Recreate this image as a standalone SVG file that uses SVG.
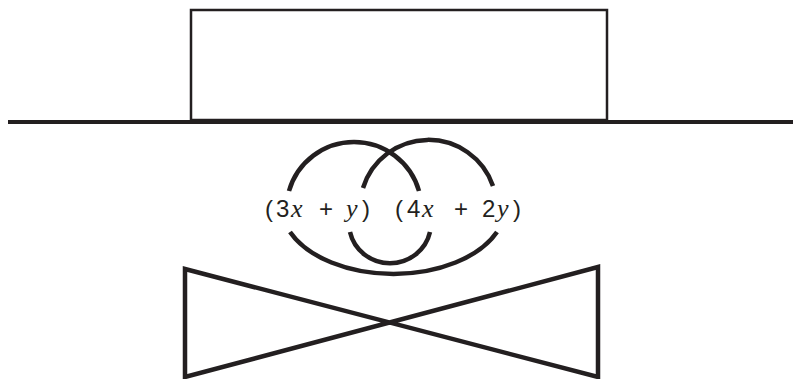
<svg xmlns="http://www.w3.org/2000/svg" width="793" height="379" viewBox="0 0 793 379">
<style>
.s{fill:none;stroke:#231f20;stroke-linecap:butt;stroke-linejoin:miter}
.t{font-family:"Liberation Sans","DejaVu Sans",sans-serif;font-size:24px;fill:#231f20}
.v{font-family:"Liberation Serif","DejaVu Serif",serif;font-style:italic;font-size:26px}
</style>
<rect width="793" height="379" fill="#fff"/>
<g id="box"><rect class="s" x="191" y="10" width="416" height="110" stroke-width="2.5"/></g>
<g id="ground"><line class="s" x1="8" y1="122" x2="793" y2="122" stroke-width="4"/></g>
<g id="connectors">
<path class="s" stroke-width="4.5" d="M 289 191 A 67.6 67.6 0 0 1 419 191"/>
<path class="s" stroke-width="4.5" d="M 363 188 A 68.4 68.4 0 0 1 493 186"/>
<path class="s" stroke-width="4.5" d="M 290 232 A 112.5 69 0 0 0 497 232"/>
<path class="s" stroke-width="4.5" d="M 350 232 A 41 40 0 0 0 430 232"/>
</g>
<g id="labels">
<text class="t" y="217"><tspan x="265">(</tspan><tspan x="276">3</tspan><tspan x="291" class="v">x</tspan><tspan x="319">+</tspan><tspan x="346" class="v">y</tspan><tspan x="362">)</tspan></text>
<text class="t" y="217"><tspan x="395">(</tspan><tspan x="407">4</tspan><tspan x="422" class="v">x</tspan><tspan x="454">+</tspan><tspan x="482">2</tspan><tspan x="497" class="v">y</tspan><tspan x="513">)</tspan></text>
</g>
<g id="bowtie">
<path class="s" stroke-width="4.5" d="M 185 269 L 598 377 L 598 267 L 185 377 Z"/>
</g>
</svg>
